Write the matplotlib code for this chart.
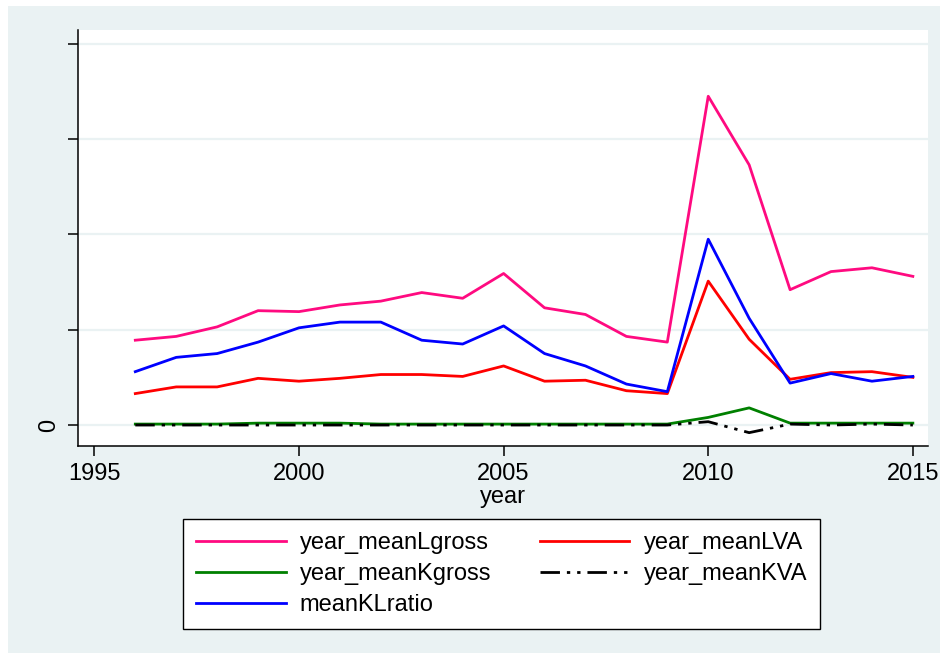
import numpy as np
import matplotlib.pyplot as plt
from matplotlib.patches import Rectangle

plt.rcParams['font.family'] = ['Liberation Sans', 'DejaVu Sans']

years = np.arange(1996, 2016)

meanLgross = [0.89, 0.93, 1.03, 1.20, 1.19, 1.26, 1.30, 1.39, 1.33, 1.59,
              1.23, 1.16, 0.93, 0.87, 3.45, 2.73, 1.42, 1.61, 1.65, 1.56]
meanLVA = [0.33, 0.40, 0.40, 0.49, 0.46, 0.49, 0.53, 0.53, 0.51, 0.62,
           0.46, 0.47, 0.36, 0.33, 1.51, 0.90, 0.48, 0.55, 0.56, 0.50]
meanKgross = [0.01, 0.01, 0.01, 0.02, 0.02, 0.02, 0.01, 0.01, 0.01, 0.01,
              0.01, 0.01, 0.01, 0.01, 0.08, 0.18, 0.02, 0.02, 0.02, 0.02]
meanKVA = [0.00, 0.00, 0.00, 0.00, 0.00, 0.00, 0.00, 0.00, 0.00, 0.00,
           0.00, 0.00, 0.00, 0.00, 0.035, -0.08, 0.01, 0.00, 0.01, 0.00]
meanKLratio = [0.56, 0.71, 0.75, 0.87, 1.02, 1.08, 1.08, 0.89, 0.85, 1.04,
               0.75, 0.62, 0.43, 0.35, 1.95, 1.12, 0.44, 0.54, 0.46, 0.51]

bg = '#EAF2F3'
lw = 2.0

fig = plt.figure(figsize=(9.4, 6.53), dpi=100)
fig.patch.set_facecolor('white')
fig.patches.append(Rectangle((8 / 940, 0), 1, 1 - 6 / 653, transform=fig.transFigure,
                             facecolor=bg, edgecolor='none', zorder=-10))

ax = fig.add_axes([78 / 940, 1 - 446 / 653, 850 / 940, 416 / 653])
ax.set_facecolor('white')

l1, = ax.plot(years, meanLgross, color='#FF0A80', lw=lw, label='year_meanLgross')
l2, = ax.plot(years, meanLVA, color='#FF0000', lw=lw, label='year_meanLVA')
l3, = ax.plot(years, meanKgross, color='#008000', lw=lw, label='year_meanKgross')
l4, = ax.plot(years, meanKVA, color='black', lw=lw, dashes=(7, 2.5, 1.2, 2.5, 1.2, 2.5),
              label='year_meanKVA')
l5, = ax.plot(years, meanKLratio, color='#0000FF', lw=lw, label='meanKLratio')

ax.set_xlim(1994.6, 2015.37)
ax.set_ylim(-0.22, 4.145)
ax.set_xticks([1995, 2000, 2005, 2010, 2015])
ax.set_yticks([0, 1, 2, 3, 4])
ax.set_yticklabels(['0', '', '', '', ''], rotation=90, va='center')
ax.tick_params(axis='both', labelsize=17, width=1.1, length=7, color='black')
ax.tick_params(axis='y', pad=6)
ax.tick_params(axis='x', pad=5)
ax.yaxis.grid(True, color=bg, lw=1.6)
ax.set_axisbelow(True)
for s in ['top', 'right']:
    ax.spines[s].set_visible(False)
for s in ['left', 'bottom']:
    ax.spines[s].set_linewidth(1.1)
ax.set_xlabel('year', fontsize=17, labelpad=1)

leg = fig.legend([l1, l3, l5, l2, l4],
                 ['year_meanLgross', 'year_meanKgross', 'meanKLratio',
                  'year_meanLVA', 'year_meanKVA'],
                 ncol=2, loc='upper left', mode='expand', borderaxespad=0,
                 bbox_to_anchor=(183 / 940, 1 - 625 / 653, 637 / 940, 106 / 653),
                 fontsize=17, handlelength=3.8, handletextpad=0.6,
                 labelspacing=0.38, borderpad=0.55, fancybox=False,
                 frameon=True, edgecolor='black', framealpha=1)
leg.get_frame().set_linewidth(1.0)

fig.savefig('out.png', dpi=100, facecolor=fig.get_facecolor())
